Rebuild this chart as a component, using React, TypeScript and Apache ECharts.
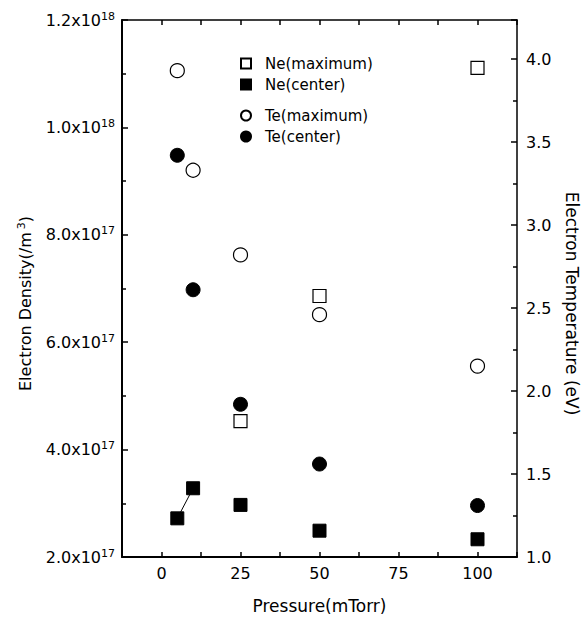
import React, { useEffect, useRef } from "react";
import * as echarts from "echarts";

const pressure = [5, 10, 25, 50, 100];
const neMaxPressure = [25, 50, 100];
const neMaximum = [4.53e17, 6.86e17, 1.111e18];
const neCenter = [2.72e17, 3.28e17, 2.97e17, 2.49e17, 2.33e17];
const teMaximum = [3.93, 3.33, 2.82, 2.46, 2.15];
const teCenter = [3.42, 2.61, 1.92, 1.56, 1.31];
const neLinkPressure = [5, 10];
const neLinkValues = [2.72e17, 3.28e17];

const FONT = "DejaVu Sans";

function sciLabel(v: number): string {
  if (v <= 0) return "0";
  const e = Math.floor(Math.log10(v) + 1e-9);
  const m = v / Math.pow(10, e);
  return `{a|${m.toFixed(1)}x10}{s|${e}}`;
}

export default function App() {
  const ref = useRef<HTMLDivElement>(null);
  useEffect(() => {
    if (!ref.current) return;
    const chart = echarts.init(ref.current, undefined, { renderer: "svg" });
    const black = "#000";
    const openStyle = { color: "#fff", borderColor: black, borderWidth: 1.2, opacity: 1 };
    const fillStyle = { color: black, borderColor: black, borderWidth: 1, opacity: 1 };
    const legendText = { fontFamily: FONT, fontSize: 15, color: black, padding: [0, 0, 0, 9], lineHeight: 15 };
    chart.setOption({
      animation: false,
      backgroundColor: "#fff",
      textStyle: { fontFamily: FONT, color: black },
      grid: { left: 122, top: 20, right: 70, bottom: 61, containLabel: false },
      legend: [
        {
          orient: "vertical",
          left: 235,
          top: 51,
          itemWidth: 10,
          itemHeight: 10,
          itemGap: 6,
          textStyle: legendText,
          data: [
            { name: "Ne(maximum)", icon: "rect" },
            { name: "Ne(center)", icon: "rect" },
          ],
        },
        {
          orient: "vertical",
          left: 235,
          top: 103,
          itemWidth: 10,
          itemHeight: 10,
          itemGap: 6,
          textStyle: legendText,
          data: [
            { name: "Te(maximum)", icon: "circle" },
            { name: "Te(center)", icon: "circle" },
          ],
        },
      ],
      xAxis: [
        {
          type: "value",
          min: -12.5,
          max: 112.5,
          interval: 12.5,
          name: "Pressure(mTorr)",
          nameLocation: "middle",
          nameGap: 40,
          nameTextStyle: { fontFamily: FONT, fontSize: 17, color: black },
          axisLine: { show: true, onZero: false, lineStyle: { color: black, width: 2 } },
          axisTick: { show: true, inside: true, length: 5, lineStyle: { color: black, width: 1.5 } },
          axisLabel: {
            fontFamily: FONT,
            fontSize: 16,
            color: black,
            margin: 8,
            formatter: (v: number) => (v >= 0 && Math.abs(v % 25) < 1e-6 ? String(v) : ""),
          },
          splitLine: { show: false },
        },
        {
          type: "value",
          position: "top",
          min: -12.5,
          max: 112.5,
          interval: 12.5,
          axisLine: { show: true, onZero: false, lineStyle: { color: black, width: 1.5 } },
          axisTick: { show: true, inside: true, length: 5, lineStyle: { color: black, width: 1.5 } },
          axisLabel: { show: false },
          splitLine: { show: false },
        },
      ],
      yAxis: [
        {
          type: "value",
          position: "left",
          min: 2e17,
          max: 1.2e18,
          interval: 2e17,
          name: "Electron Density(/m{s|3})",
          nameLocation: "middle",
          nameGap: 87,
          nameRotate: 90,
          nameTextStyle: {
            fontFamily: FONT,
            fontSize: 16,
            color: black,
            padding: [0, 30, 0, 0],
            rich: {
              s: { fontFamily: FONT, fontSize: 11, color: black, verticalAlign: "top", padding: [0, 0, 8, 3] },
            },
          },
          axisLine: { show: true, onZero: false, lineStyle: { color: black, width: 2 } },
          axisTick: { show: true, inside: true, length: 6, lineStyle: { color: black, width: 1.5 } },
          minorTick: { show: true, splitNumber: 2, length: 4, lineStyle: { color: black, width: 1.5 } },
          axisLabel: {
            fontFamily: FONT,
            color: black,
            margin: 7,
            formatter: (v: number) => sciLabel(v),
            rich: {
              a: { fontFamily: FONT, fontSize: 16, color: black },
              s: { fontFamily: FONT, fontSize: 11, color: black, verticalAlign: "top", padding: [0, 0, 8, 0] },
            },
          },
          splitLine: { show: false },
        },
        {
          type: "value",
          position: "right",
          min: 1.0,
          max: 4.235,
          interval: 0.5,
          name: "Electron Temperature (eV)",
          nameLocation: "middle",
          nameGap: 46,
          nameRotate: -90,
          nameTextStyle: { fontFamily: FONT, fontSize: 17, color: black, padding: [0, 0, 0, 30] },
          axisLine: { show: true, onZero: false, lineStyle: { color: black, width: 1.5 } },
          axisTick: { show: true, inside: true, length: 6, lineStyle: { color: black, width: 1.5 } },
          minorTick: { show: true, splitNumber: 2, length: 4, lineStyle: { color: black, width: 1.5 } },
          axisLabel: {
            fontFamily: FONT,
            fontSize: 16,
            color: black,
            margin: 9,
            showMaxLabel: false,
            formatter: (v: number) => (Math.abs((v * 2) % 1) < 1e-6 ? v.toFixed(1) : ""),
          },
          splitLine: { show: false },
        },
      ],
      series: [
        {
          name: "Ne-link",
          type: "line",
          xAxisIndex: 0,
          yAxisIndex: 0,
          symbol: "none",
          lineStyle: { color: black, width: 1 },
          data: neLinkPressure.map((p, i) => [p, neLinkValues[i]]),
          z: 1,
        },
        {
          name: "Ne(maximum)",
          type: "scatter",
          xAxisIndex: 0,
          yAxisIndex: 0,
          symbol: "rect",
          symbolSize: 13,
          itemStyle: openStyle,
          data: neMaxPressure.map((p, i) => [p, neMaximum[i]]),
          z: 3,
        },
        {
          name: "Ne(center)",
          type: "scatter",
          xAxisIndex: 0,
          yAxisIndex: 0,
          symbol: "rect",
          symbolSize: 13,
          itemStyle: fillStyle,
          data: pressure.map((p, i) => [p, neCenter[i]]),
          z: 3,
        },
        {
          name: "Te(maximum)",
          type: "scatter",
          xAxisIndex: 0,
          yAxisIndex: 1,
          symbol: "circle",
          symbolSize: 14,
          itemStyle: openStyle,
          data: pressure.map((p, i) => [p, teMaximum[i]]),
          z: 3,
        },
        {
          name: "Te(center)",
          type: "scatter",
          xAxisIndex: 0,
          yAxisIndex: 1,
          symbol: "circle",
          symbolSize: 14,
          itemStyle: fillStyle,
          data: pressure.map((p, i) => [p, teCenter[i]]),
          z: 3,
        },
      ],
    });
    return () => chart.dispose();
  }, []);
  return <div ref={ref} style={{ width: 588, height: 619, position: "absolute", left: 0, top: 0 }} />;
}
